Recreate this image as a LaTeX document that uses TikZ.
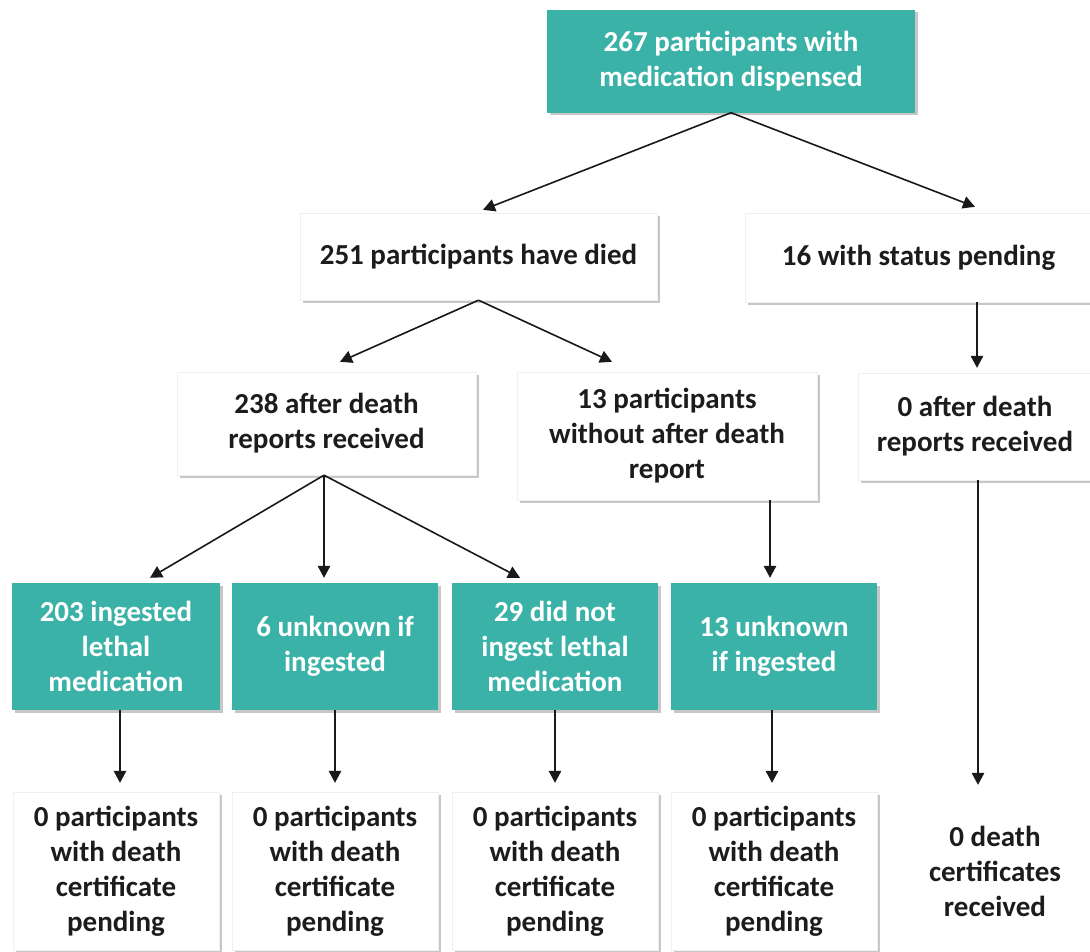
\documentclass[tikz,border=0pt]{standalone}
\usepackage{fontspec}
\setmainfont{Carlito}
\usetikzlibrary{shadows,arrows.meta}
\definecolor{tealc}{RGB}{58,178,168}
\definecolor{txt}{RGB}{28,28,28}
\begin{document}
\begin{tikzpicture}[x=1pt,y=-1pt,
 base/.style={rectangle, align=center, font=\bfseries\fontsize{29}{35}\selectfont, inner sep=0pt},
 shad/.style={drop shadow={shadow xshift=2.5pt, shadow yshift=-2.5pt, fill=black, opacity=0.22}},
 tealbox/.style={base, shad, fill=tealc, text=white, minimum width=206pt, minimum height=127pt},
 whitebox/.style={base, shad, fill=white, draw=black!6, text=txt},
 arr/.style={-{Triangle[width=12.5pt,length=12pt]}, line width=1.6pt, black!90}]
\fill[white] (0,0) rectangle (1090,951);
\useasboundingbox (0,0) rectangle (1090,951);
% level 0
\node[base, shad, fill=tealc, text=white, minimum width=368pt, minimum height=103pt] (top) at (731,61) {267 participants with\\medication dispensed};
% level 1
\node[whitebox, minimum width=357pt, minimum height=87pt] (died) at (478.5,256.5) {251 participants have died};
\node[whitebox, minimum width=347pt, minimum height=89pt] (pending) at (918.5,257.5) {16 with status pending};
% level 2
\node[whitebox, minimum width=299pt, minimum height=103pt] (r238) at (326.5,423.5) {238 after death\\reports received};
\node[whitebox, minimum width=300pt, minimum height=128pt] (r13) at (667,436) {13 participants\\without after death\\report};
\node[whitebox, minimum width=234pt, minimum height=107pt] (r0) at (975,426.5) {0 after death\\reports received};
% level 3
\node[tealbox, minimum width=208pt] (t1) at (116,646.5) {203 ingested\\lethal\\medication};
\node[tealbox] (t2) at (335,646.5) {6 unknown if\\ingested};
\node[tealbox] (t3) at (555,646.5) {29 did not\\ingest lethal\\medication};
\node[tealbox] (t4) at (774,646.5) {13 unknown\\if ingested};
% level 4
\node[whitebox, minimum width=206pt, minimum height=158pt] (b1) at (116,871) {0 participants\\with death\\certificate\\pending};
\node[whitebox, minimum width=206pt, minimum height=158pt] (b2) at (335,871) {0 participants\\with death\\certificate\\pending};
\node[whitebox, minimum width=206pt, minimum height=158pt] (b3) at (555,871) {0 participants\\with death\\certificate\\pending};
\node[whitebox, minimum width=206pt, minimum height=158pt] (b4) at (774,871) {0 participants\\with death\\certificate\\pending};
\node[base, fill=white, text=txt, minimum width=210pt, minimum height=158pt] (b5) at (995,871) {0 death\\certificates\\received};
% connectors
\draw[arr] (top.south) -- ([xshift=4.5pt,yshift=3pt]died.north);
\draw[arr] (top.south) -- ([xshift=56.5pt,yshift=6pt]pending.north);
\draw[arr] (died.south) -- ([xshift=13.5pt,yshift=10pt]r238.north);
\draw[arr] (died.south) -- ([xshift=-55pt,yshift=10pt]r13.north);
\draw[arr] ([xshift=58.5pt]pending.south) -- ([xshift=2pt,yshift=5pt]r0.north);
\draw[arr] ([xshift=-2.5pt]r238.south) -- ([xshift=34pt,yshift=5pt]t1.north);
\draw[arr] ([xshift=-2.5pt]r238.south) -- ([xshift=-11pt,yshift=5pt]t2.north);
\draw[arr] ([xshift=-2.5pt]r238.south) -- ([xshift=-35pt,yshift=5pt]t3.north);
\draw[arr] ([xshift=103pt]r13.south) -- ([xshift=-4pt,yshift=5pt]t4.north);
\draw[arr] ([xshift=4pt]t1.south) -- ([xshift=4pt,yshift=9pt]b1.north);
\draw[arr] (t2.south) -- ([yshift=9pt]b2.north);
\draw[arr] (t3.south) -- ([yshift=9pt]b3.north);
\draw[arr] ([xshift=-2pt]t4.south) -- ([xshift=-2pt,yshift=9pt]b4.north);
\draw[arr] ([xshift=3pt]r0.south) -- ([xshift=-17pt,yshift=7pt]b5.north);
\end{tikzpicture}
\end{document}
